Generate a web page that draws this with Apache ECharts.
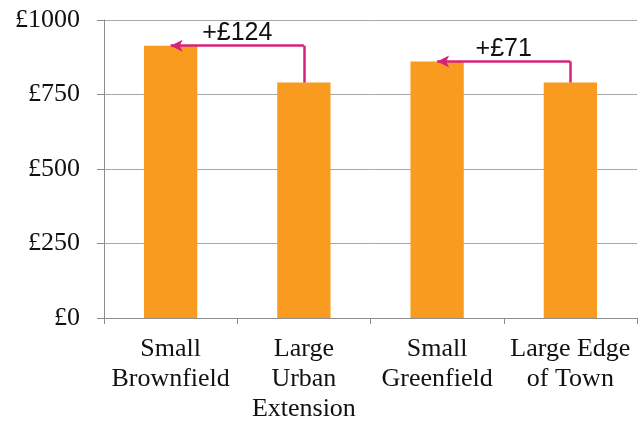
<!DOCTYPE html>
<html>
<head>
<meta charset="utf-8">
<script src="https://cdn.jsdelivr.net/npm/echarts@6/dist/echarts.min.js"></script>
<style>
  html, body { margin: 0; padding: 0; background: #fff; }
  #chart { width: 639px; height: 427px; }
</style>
</head>
<body>
<div id="chart"></div>
<script>
// Cost per plot by site type
const categories = ['Small\nBrownfield', 'Large\nUrban\nExtension', 'Small\nGreenfield', 'Large Edge\nof Town'];
const costs = [914, 790, 861, 790];
const yTicks = [0, 250, 500, 750, 1000];

// Differences shown as arrows: from category [from] to category [to]
const gaps = [
  { from: 1, to: 0, label: '+£124' },
  { from: 3, to: 2, label: '+£71' }
];

const arrowColor = '#d4237a';
const axisGray = '#8c8c8c';
const serif = '"Liberation Serif", "Times New Roman", serif';

const markData = [];
gaps.forEach(g => {
  // vertical rise from the lower bar's top
  markData.push([
    { coord: [g.from, costs[g.from]], symbol: 'none', label: { show: false } },
    { coord: [g.from, costs[g.to]], symbol: 'none' }
  ]);
  // horizontal run to the higher bar, with arrow head
  markData.push([
    { coord: [g.from, costs[g.to]], symbol: 'none',
      label: { show: true, formatter: g.label, position: 'middle' } },
    { coord: [g.to, costs[g.to]], symbol: 'arrow', symbolSize: [9, 12] }
  ]);
});

const chart = echarts.init(document.getElementById('chart'));
chart.setOption({
  animation: false,
  grid: { left: 104, right: 2, top: 20, bottom: 109 },
  xAxis: {
    type: 'category',
    data: categories,
    axisLine: { lineStyle: { color: axisGray, width: 1 } },
    axisTick: { show: true, length: 6, lineStyle: { color: axisGray } },
    axisLabel: {
      interval: 0, margin: 16,
      fontFamily: serif, fontSize: 26, lineHeight: 30, color: '#111'
    }
  },
  yAxis: {
    type: 'value',
    min: 0, max: 1000, interval: 250,
    axisLine: { show: true, lineStyle: { color: axisGray, width: 1 } },
    axisTick: { show: true, length: 7, lineStyle: { color: axisGray } },
    splitLine: { lineStyle: { color: '#a8a8a8', width: 1 } },
    axisLabel: {
      margin: 24,
      fontFamily: serif, fontSize: 26, color: '#111',
      formatter: v => yTicks.includes(v) ? '£' + v : ''
    }
  },
  series: [{
    type: 'bar',
    data: costs,
    barWidth: '40%',
    itemStyle: { color: '#f99b1e' },
    markLine: {
      silent: true,
      symbol: 'none',
      lineStyle: { color: arrowColor, width: 2.5, type: 'solid' },
      label: {
        position: 'middle',
        fontFamily: '"Liberation Sans", Arial, sans-serif',
        fontSize: 25, color: '#111', distance: 0
      },
      data: markData
    }
  }]
});
</script>
</body>
</html>
